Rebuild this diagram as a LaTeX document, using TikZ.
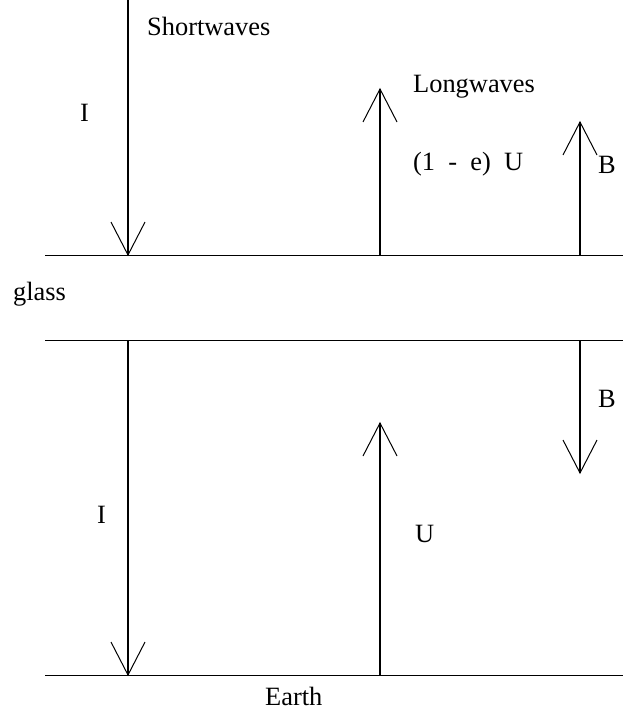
\documentclass[tikz,border=0pt]{standalone}
\usepackage{fontspec}
\setmainfont{Liberation Serif}
\begin{document}
\begin{tikzpicture}[x=1bp,y=-1bp,
  lbl/.style={font=\fontsize{26.5}{30}\selectfont, inner sep=0pt, anchor=base west},
  shaft/.style={line width=2bp},
  rulel/.style={line width=1bp},
  headl/.style={line width=1bp}]
\useasboundingbox (0,0) rectangle (623,711);
% horizontal lines
\coordinate (t1) at (45,255); \coordinate (t2) at (623,255);
\coordinate (g1) at (45,340); \coordinate (g2) at (623,340);
\coordinate (e1) at (45,675); \coordinate (e2) at (623,675);
\draw[rulel] (t1) -- (t2);
\draw[rulel] (g1) -- (g2);
\draw[rulel] (e1) -- (e2);
% arrow ends
\coordinate (a1s) at (128,0);   \coordinate (a1t) at (128,255);
\coordinate (a2s) at (380,255); \coordinate (a2t) at (380,89);
\coordinate (a3s) at (580,255); \coordinate (a3t) at (580,122);
\coordinate (a4s) at (128,340); \coordinate (a4t) at (128,675);
\coordinate (a5s) at (380,675); \coordinate (a5t) at (380,423);
\coordinate (a6s) at (580,340); \coordinate (a6t) at (580,473);
\draw[shaft] (a1s) -- (a1t);
\draw[headl] (a1t) ++(-17,-33) -- (a1t) -- ++(17,-33);
\draw[shaft] (a2s) -- (a2t);
\draw[headl] (a2t) ++(-17,33) -- (a2t) -- ++(17,33);
\draw[shaft] (a3s) -- (a3t);
\draw[headl] (a3t) ++(-17,33) -- (a3t) -- ++(17,33);
\draw[shaft] (a4s) -- (a4t);
\draw[headl] (a4t) ++(-17,-33) -- (a4t) -- ++(17,-33);
\draw[shaft] (a5s) -- (a5t);
\draw[headl] (a5t) ++(-17,33) -- (a5t) -- ++(17,33);
\draw[shaft] (a6s) -- (a6t);
\draw[headl] (a6t) ++(-17,-33) -- (a6t) -- ++(17,-33);
% labels
\node[lbl] (short) at (147,36) {Shortwaves};
\node[lbl] (long) at (413,93) {Longwaves};
\node[lbl] (oneme) at (413,170) {(1\ \ -\ \ e)\ \ U};
\node[lbl] (btop) at (598,173) {B};
\node[lbl] (itop) at (80,122) {I};
\node[lbl] (glass) at (13,300) {glass};
\node[lbl] (bbot) at (598,407) {B};
\node[lbl] (ibot) at (97,523) {I};
\node[lbl] (ubot) at (415,542) {U};
\node[lbl] (earth) at (265,705) {Earth};
\end{tikzpicture}
\end{document}
